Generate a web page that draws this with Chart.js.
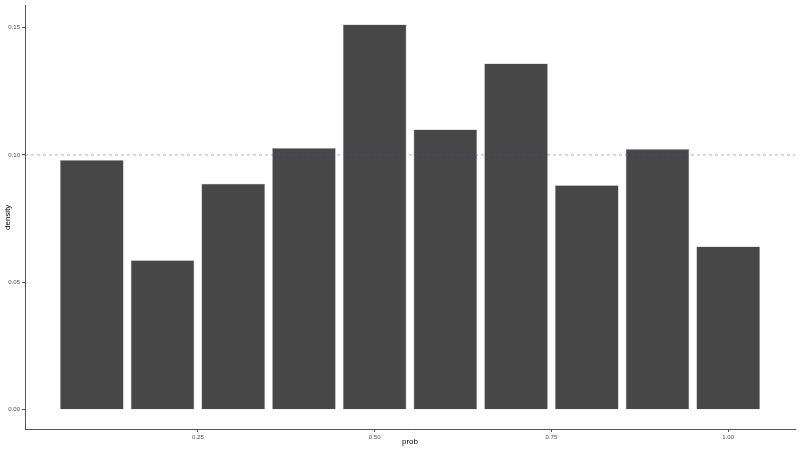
<!DOCTYPE html>
<html>
<head>
<meta charset="utf-8">
<script src="https://cdn.jsdelivr.net/npm/chart.js@4/dist/chart.umd.min.js"></script>
<style>
  html, body { margin: 0; padding: 0; background: #fff; }
  #wrap { width: 800px; height: 449px; }
</style>
</head>
<body>
<div id="wrap"><canvas id="probChart"></canvas></div>
<script>
// valores
const probs = [0.1, 0.2, 0.3, 0.4, 0.5, 0.6, 0.7, 0.8, 0.9, 1.0];
const density = [0.0980, 0.0587, 0.0887, 0.1027, 0.1512, 0.1100, 0.1359, 0.0881, 0.1023, 0.0641];
const xTicks = [0.25, 0.50, 0.75, 1.00];
const yTicks = [0.00, 0.05, 0.10, 0.15];
const refLine = 0.10; // linha tracejada

const xMin = 0.0055, xMax = 1.0945;
const yMin = -0.00755, yMax = 0.1586;

const tickFont = { family: 'Liberation Sans', size: 6 };
const titleFont = { family: 'Liberation Sans', size: 8 };

const ctx = document.getElementById('probChart').getContext('2d');
const chart = new Chart(ctx, {
    type: 'bar',
    data: {
        datasets: [{
            type: 'line',
            data: [{ x: xMin, y: refLine }, { x: xMax, y: refLine }],
            borderColor: 'rgba(70, 70, 220, 0.45)',
            borderWidth: 1,
            borderDash: [3, 3],
            pointRadius: 0,
            order: 0
        }, {
            type: 'bar',
            data: probs.map((p, i) => ({ x: p, y: density[i] })),
            backgroundColor: '#474747',
            borderColor: '#9a9a9a',
            borderWidth: 0.6,
            barPercentage: 0.9,
            categoryPercentage: 1.0,
            order: 1
        }]
    },
    options: {
        responsive: true,
        maintainAspectRatio: false,
        animation: false,
        layout: { padding: { top: 3, right: 5, left: 0, bottom: 0 } },
        plugins: { legend: { display: false }, tooltip: { enabled: false } },
        scales: {
            x: {
                type: 'linear',
                min: xMin,
                max: xMax,
                offset: false,
                afterBuildTicks: s => { s.ticks = xTicks.map(v => ({ value: v })); },
                afterFit: s => { s.height = 20; },
                ticks: {
                    font: tickFont,
                    color: '#4d4d4d',
                    padding: 2,
                    maxRotation: 0,
                    callback: v => v.toFixed(2)
                },
                grid: { offset: false, drawOnChartArea: false, tickLength: 3, color: '#555' },
                border: { display: true, color: '#555', width: 1 },
                title: { display: true, text: 'prob', font: titleFont, color: '#000', padding: { top: 0, bottom: 2 } }
            },
            y: {
                min: yMin,
                max: yMax,
                afterBuildTicks: s => { s.ticks = yTicks.map(v => ({ value: v })); },
                afterFit: s => { s.width = 25; },
                ticks: {
                    font: tickFont,
                    color: '#4d4d4d',
                    padding: 2,
                    callback: v => v.toFixed(2)
                },
                grid: { drawOnChartArea: false, tickLength: 3, color: '#555' },
                border: { display: true, color: '#555', width: 1 },
                title: { display: true, text: 'density', font: titleFont, color: '#000', padding: { top: 3, bottom: 0 } }
            }
        }
    }
});
</script>
</body>
</html>
